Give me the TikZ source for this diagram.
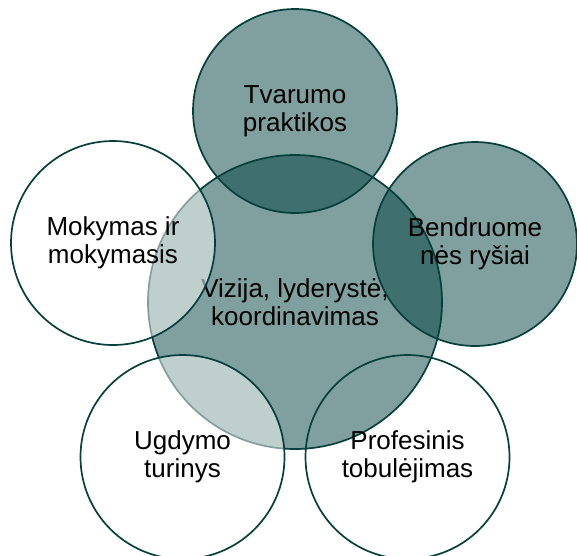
\documentclass[tikz,border=0pt]{standalone}
\usepackage{fontspec}
\setmainfont{Liberation Sans}
\definecolor{ink}{HTML}{000000}
\definecolor{rim}{HTML}{063F3B}
\definecolor{teal}{HTML}{00413D}
\begin{document}
\begin{tikzpicture}[x=1pt,y=-1pt,
  ring/.style={circle,draw=rim,line width=1.7pt,inner sep=0pt,
    text=ink,align=center,font=\fontsize{26}{27.5}\selectfont},
  small/.style={ring,minimum size=204pt},
  shaded/.style={fill=teal,fill opacity=.5,text opacity=1},
  pale/.style={fill=white,fill opacity=.5,text opacity=1}
]
\useasboundingbox (0,0) rectangle (577,555);
\node[ring,shaded,minimum size=294pt] (core) at (295,302)
  {Vizija, lyderystė,\\koordinavimas};
\node[small,shaded] (sust) at (295,111) {Tvarumo\\praktikos};
\node[small,shaded] (comm) at (475,244) {Bendruome\\nės ryšiai};
\node[small,pale] (learn) at (113,243) {Mokymas ir\\mokymasis};
\node[small,pale] (curr) at (182.5,457) {Ugdymo\\turinys};
\node[small] (prof) at (407.5,457) {Profesinis\\tobulėjimas};
\end{tikzpicture}
\end{document}
